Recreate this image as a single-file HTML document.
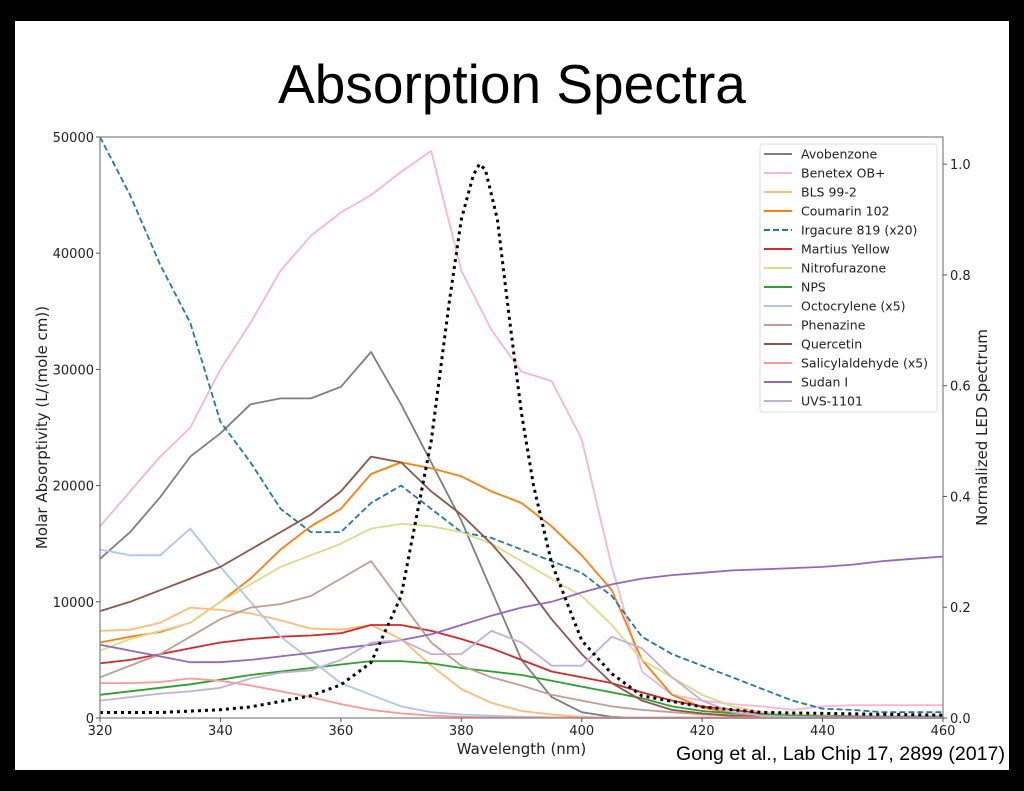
<!DOCTYPE html>
<html><head><meta charset="utf-8"><style>
html,body{margin:0;padding:0;background:#000;}
#wrap{position:relative;width:1024px;height:791px;background:#000;overflow:hidden;}
#paper{position:absolute;left:15px;top:21px;width:994px;height:749px;background:#fff;}
#title{position:absolute;left:0;width:1024px;top:52px;text-align:center;font-family:"Liberation Sans",sans-serif;font-size:55px;color:#000;}
#cite{position:absolute;left:676px;top:743px;font-family:"Liberation Sans",sans-serif;font-size:19.6px;color:#000;white-space:nowrap;}
svg{position:absolute;left:0;top:0;}
text{font-family:"DejaVu Sans","Liberation Sans",sans-serif;}
</style></head><body>
<div id="wrap">
<div id="paper"></div>
<div id="title">Absorption Spectra</div>
<svg id="chart" width="1024" height="791"></svg>
<div id="cite">Gong et al., Lab Chip 17, 2899 (2017)</div>
</div>
<script>
const wavelengths=[320,325,330,335,340,345,350,355,360,365,370,375,380,385,390,395,400,405,410,415,420,425,430,435,440,445,450,455,460];
const xTicks=[320,340,360,380,400,420,440,460];
const yTicks=[0,10000,20000,30000,40000,50000];
const yTickLabels=["0","10000","20000","30000","40000","50000"];
const y2Ticks=[0,0.2,0.4,0.6,0.8,1.0];
const y2TickLabels=["0.0","0.2","0.4","0.6","0.8","1.0"];
const avobenzone=[13700,16000,19000,22500,24500,27000,27500,27500,28500,31500,27000,22000,17000,11000,5000,1800,500,100,0,0,0,0,0,0,0,0,0,0,0];
const benetex=[16500,19500,22500,25000,30000,34000,38500,41500,43500,45000,47000,48800,38500,33400,29800,29000,24000,13000,4000,2000,1500,1200,1000,700,1000,1100,1100,1100,1100];
const bls=[7500,7600,8200,9500,9300,9000,8400,7700,7600,8000,6800,4500,2500,1300,600,300,100,0,0,0,0,0,0,0,0,0,0,0,0];
const coumarin=[6500,7000,7400,8200,10000,12000,14500,16500,18000,21000,22000,21500,20800,19500,18500,16500,14000,11000,5000,2000,900,400,200,100,100,100,100,100,100];
const irgacure=[50000,45000,39000,34000,25500,22000,18000,16000,16000,18500,20000,18000,16000,15500,14500,13500,12500,10500,7000,5500,4500,3500,2500,1500,800,700,500,500,500];
const martius=[4700,5000,5500,6000,6500,6800,7000,7100,7300,8000,8000,7500,6800,6000,5000,4000,3500,3000,2200,1500,1000,700,400,300,200,150,100,100,100];
const nitrofurazone=[5800,6800,7500,8200,10000,11500,13000,14000,15000,16300,16700,16500,16000,15000,13500,12000,10500,8000,5000,3500,2000,1000,500,300,200,100,100,100,100];
const nps=[2000,2300,2600,2900,3300,3700,4000,4300,4600,4900,4900,4700,4300,4000,3700,3200,2700,2200,1700,1000,600,400,300,200,150,100,100,100,100];
const octocrylene=[14500,14000,14000,16300,13000,10000,7000,5000,3000,2000,1000,500,300,200,100,50,0,0,0,0,0,0,0,0,0,0,0,0,0];
const phenazine=[3500,4500,5500,7000,8500,9500,9800,10500,12000,13500,10000,6500,4500,3500,2800,2000,1500,1000,700,500,300,200,100,100,100,100,100,100,100];
const quercetin=[9200,10000,11000,12000,13000,14500,16000,17500,19500,22500,22000,19500,17500,15000,12000,8500,5500,3000,1500,700,400,200,100,100,100,100,100,100,100];
const salicylaldehyde=[3000,3000,3100,3400,3200,2800,2300,1800,1200,700,400,200,100,50,50,50,50,50,50,50,50,50,50,50,50,50,50,50,50];
const sudan=[6300,5800,5300,4800,4800,5000,5300,5600,6000,6300,6700,7200,8000,8800,9500,10000,10800,11500,12000,12300,12500,12700,12800,12900,13000,13200,13500,13700,13900];
const uvs=[1500,1800,2100,2300,2600,3400,3900,4100,5000,6500,6700,5500,5500,7500,6500,4500,4500,7000,6000,3500,1500,500,200,100,50,50,50,50,50];
const ledWavelengths=[320,330,340,345,350,355,360,365,370,375,378,380,382,383,384,386,388,390,392,395,400,405,410,420,430,460];
const ledIntensity=[0.01,0.01,0.015,0.02,0.03,0.04,0.06,0.1,0.22,0.5,0.75,0.9,0.98,1.0,0.99,0.9,0.72,0.55,0.42,0.28,0.14,0.08,0.04,0.02,0.01,0.005];
const seriesNames=["Avobenzone","Benetex OB+","BLS 99-2","Coumarin 102","Irgacure 819 (x20)","Martius Yellow","Nitrofurazone","NPS","Octocrylene (x5)","Phenazine","Quercetin","Salicylaldehyde (x5)","Sudan I","UVS-1101"];
const seriesData=[avobenzone,benetex,bls,coumarin,irgacure,martius,nitrofurazone,nps,octocrylene,phenazine,quercetin,salicylaldehyde,sudan,uvs];
const seriesColors=["#7f7f7f","#f7b6d2","#ffbb78","#ff7f0e","#1f77b4","#d62728","#dbdb8d","#2ca02c","#aec7e8","#c49c94","#8c564b","#ff9896","#9467bd","#c5b0d5"];

const L=100,R=943,T=137,B=718;
const NS="http://www.w3.org/2000/svg";
const svg=document.getElementById('chart');
function xs(v){return L+(v-320)/(460-320)*(R-L);}
function ys(v){return B-v/50000*(B-T);}
function y2s(v){return B-v/1.049*(B-T);}
function mk(tag,attrs,parent){const e=document.createElementNS(NS,tag);for(const k in attrs)e.setAttribute(k,attrs[k]);(parent||svg).appendChild(e);return e;}

const series=mk('g',{});


seriesData.forEach((d,i)=>{
  const pts=d.map((v,j)=>xs(wavelengths[j]).toFixed(1)+','+ys(v).toFixed(1)).join(' ');
  const p=mk('polyline',{points:pts,fill:'none',stroke:seriesColors[i],'stroke-width':1.8,'stroke-linejoin':'round'},series);
  if(i===4){p.setAttribute('stroke-dasharray','6,3');}
  
  
});
const led=mk('polyline',{points:ledWavelengths.map((w,j)=>xs(w).toFixed(1)+','+y2s(ledIntensity[j]).toFixed(1)).join(' '),fill:'none',stroke:'#000','stroke-width':3,'stroke-dasharray':'3,4'});



const frame=mk('rect',{x:L,y:T,width:R-L,height:B-T,fill:'none',stroke:'#808080','stroke-width':1.2});



xTicks.forEach(t=>{
  const x=xs(t);
  mk('line',{x1:x,y1:B,x2:x,y2:B+4,stroke:'#555'});
  const tx=mk('text',{x:x,y:B+17,'text-anchor':'middle','font-size':13,fill:'#222'});
  tx.textContent=t;
  
  
});
yTicks.forEach((t,i)=>{
  const y=ys(t);
  mk('line',{x1:L-4,y1:y,x2:L,y2:y,stroke:'#555'});
  const tx=mk('text',{x:L-6,y:y+5,'text-anchor':'end','font-size':13,fill:'#222'});
  tx.textContent=yTickLabels[i];
  
  
});
y2Ticks.forEach((t,i)=>{
  const y=y2s(t);
  mk('line',{x1:R,y1:y,x2:R+4,y2:y,stroke:'#555'});
  const tx=mk('text',{x:R+7,y:y+5,'font-size':13,fill:'#222'});
  tx.textContent=y2TickLabels[i];
  
  
});
const xt=mk('text',{x:(L+R)/2,y:754,'text-anchor':'middle','font-size':15,fill:'#222'});
xt.textContent='Wavelength (nm)';


const yt=mk('text',{x:0,y:0,'text-anchor':'middle','font-size':15,fill:'#222',transform:'translate(47,'+((T+B)/2)+') rotate(-90)'});
yt.textContent='Molar Absorptivity (L/(mole cm))';


const y2t=mk('text',{x:0,y:0,'text-anchor':'middle','font-size':15,fill:'#222',transform:'translate(987,'+((T+B)/2)+') rotate(-90)'});
y2t.textContent='Normalized LED Spectrum';



const lg=mk('g',{});


mk('rect',{x:760,y:144,width:177,height:268,rx:3,fill:'#fff','fill-opacity':0.85,stroke:'#ddd'},lg);
seriesNames.forEach((n,i)=>{
  const y=154+i*19;
  const ln=mk('line',{x1:764,y1:y,x2:792,y2:y,stroke:seriesColors[i],'stroke-width':2},lg);
  if(i===4)ln.setAttribute('stroke-dasharray','6,3');
  const tx=mk('text',{x:801,y:y+4.5,'font-size':12.5,fill:'#222'},lg);
  tx.textContent=n;
  
  
});
</script>
</body></html>
